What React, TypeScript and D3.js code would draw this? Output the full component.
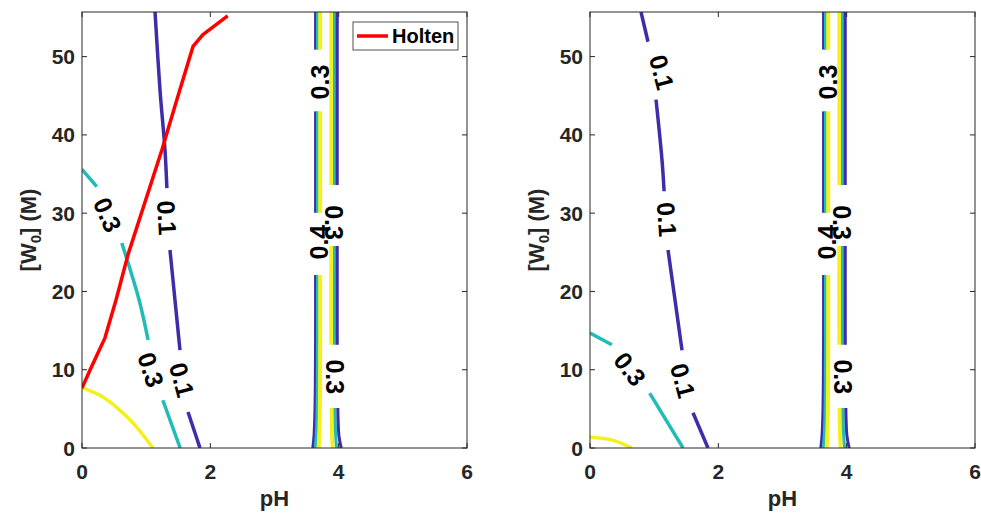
import React from "react";
import * as d3 from "d3";

// ---------- data ----------
const pHTicks = [0, 2, 4, 6];
const wTicks = [0, 10, 20, 30, 40, 50];
const PH_MAX = 6;
const W_MAX = 55.7;

const holtenPH = [0, 0.125, 0.358, 0.53, 0.717, 1.246, 1.464, 1.73, 1.885, 2.27];
const holtenW = [7.67, 9.97, 14.07, 18.9, 24.7, 38.1, 44.1, 51.3, 52.8, 55.2];

// left panel curves
const left01PH = [1.138, 1.216, 1.293, 1.371, 1.449, 1.527, 1.652, 1.839];
const left01W = [55.7, 45.7, 38.1, 25.3, 18.9, 12.5, 4.6, 0];
const left03PH = [0, 0.23, 0.62, 0.89, 1.03, 1.26, 1.53];
const left03W = [35.6, 33.4, 26.2, 18.9, 13.8, 6.1, 0];
const left05PH = [0, 0.35, 0.7, 0.9, 1.106];
const left05W = [7.7, 6.4, 4.0, 2.2, 0];

// right panel curves
const right01PH = [0.795, 0.904, 1.029, 1.122, 1.216, 1.325, 1.434, 1.605, 1.839];
const right01W = [55.7, 51.9, 44.5, 36.8, 25.3, 18.9, 12.5, 4.5, 0];
const right03PH = [0, 0.34, 0.62, 0.93, 1.45];
const right03W = [14.7, 13.2, 10.5, 7.0, 0];
const right05PH = [0, 0.35, 0.65];
const right05W = [1.4, 1.0, 0];

// near-vertical contours around pH 3.6 - 4.0 (same in both panels)
const vertW = [55.7, 15, 8, 4, 1.5, 0];
const vBlueLeftPH = [3.64, 3.64, 3.636, 3.628, 3.615, 3.597];
const vTealLeftPH = [3.67, 3.67, 3.667, 3.661, 3.65, 3.636];
const vYellowLeftPH = [3.712, 3.712, 3.71, 3.706, 3.698, 3.688];
const vYellowRightPH = [3.885, 3.885, 3.887, 3.891, 3.898, 3.908];
const vTealRightPH = [3.935, 3.935, 3.938, 3.944, 3.954, 3.968];
const vBlueRightPH = [3.978, 3.978, 3.982, 3.99, 4.005, 4.04];

const BLUE = "#3e2ca8";
const TEAL = "#22bcb6";
const YELLOW = "#f4f01e";
const RED = "#ff0000";

type Curve = { ph: number[]; w: number[]; color: string; gaps: number[][]; width: number };
type Label = { text: string; ph: number; w: number; angle: number };

const vertCurves: Curve[] = [
  { ph: vBlueLeftPH, w: vertW, color: BLUE, gaps: [[43.0, 50.9], [22.1, 30.05]], width: 3 },
  { ph: vTealLeftPH, w: vertW, color: TEAL, gaps: [[43.0, 50.9], [22.1, 30.05]], width: 3 },
  { ph: vYellowLeftPH, w: vertW, color: YELLOW, gaps: [[43.0, 50.9], [22.1, 30.05]], width: 4 },
  { ph: vYellowRightPH, w: vertW, color: YELLOW, gaps: [[25.8, 33.6], [5.1, 13.2]], width: 4 },
  { ph: vTealRightPH, w: vertW, color: TEAL, gaps: [[25.8, 33.6], [5.1, 13.2]], width: 3 },
  { ph: vBlueRightPH, w: vertW, color: BLUE, gaps: [[25.8, 33.6], [5.1, 13.2]], width: 3 },
];

const vertLabels: Label[] = [
  { text: "0.3", ph: 3.709, w: 46.75, angle: -90 },
  { text: "0.4", ph: 3.69, w: 26.3, angle: -90 },
  { text: "0.3", ph: 3.93, w: 28.8, angle: 90 },
  { text: "0.3", ph: 3.943, w: 9.1, angle: 90 },
];

const leftCurves: Curve[] = [
  { ph: left01PH, w: left01W, color: BLUE, gaps: [[25.3, 33.2], [4.6, 12.5]], width: 3.5 },
  { ph: left03PH, w: left03W, color: TEAL, gaps: [[26.2, 33.4], [6.1, 13.8]], width: 3.5 },
  { ph: left05PH, w: left05W, color: YELLOW, gaps: [], width: 3.5 },
  ...vertCurves,
];
const leftLabels: Label[] = [
  { text: "0.3", ph: 0.4, w: 29.8, angle: 66 },
  { text: "0.1", ph: 1.325, w: 29.4, angle: 87 },
  { text: "0.3", ph: 1.075, w: 10.0, angle: 72 },
  { text: "0.1", ph: 1.558, w: 8.7, angle: 75 },
  ...vertLabels,
];

const rightCurves: Curve[] = [
  { ph: right01PH, w: right01W, color: BLUE, gaps: [[44.5, 51.9], [25.3, 32.8], [4.5, 12.5]], width: 3.5 },
  { ph: right03PH, w: right03W, color: TEAL, gaps: [[7.0, 13.2]], width: 3.5 },
  { ph: right05PH, w: right05W, color: YELLOW, gaps: [], width: 3.5 },
  ...vertCurves,
];
const rightLabels: Label[] = [
  { text: "0.1", ph: 1.12, w: 48.0, angle: 75 },
  { text: "0.1", ph: 1.2, w: 29.2, angle: 86 },
  { text: "0.3", ph: 0.623, w: 10.1, angle: 52 },
  { text: "0.1", ph: 1.449, w: 8.6, angle: 75 },
  ...vertLabels,
];

// ---------- helpers ----------
type P = [number, number];
function splitByGaps(ph: number[], w: number[], gaps: number[][]): P[][] {
  const pts: P[] = ph.map((p, i) => [p, w[i]]);
  const inGap = (v: number) => gaps.some((g) => v > g[0] && v < g[1]);
  const bounds = Array.from(new Set(gaps.flat()));
  const segs: P[][] = [];
  let cur: P[] = [];
  const push = (q: P) => {
    const last = cur[cur.length - 1];
    if (!last || Math.abs(last[0] - q[0]) > 1e-9 || Math.abs(last[1] - q[1]) > 1e-9) cur.push(q);
  };
  pts.forEach((p, i) => {
    if (i > 0) {
      const a = pts[i - 1];
      if (a[1] !== p[1]) {
        const cross = bounds
          .filter((b) => (b - a[1]) * (b - p[1]) <= 0)
          .map((b) => ({ t: (b - a[1]) / (p[1] - a[1]) }))
          .sort((u, v) => u.t - v.t);
        cross.forEach(({ t }) => {
          const at = (s: number) => a[1] + s * (p[1] - a[1]);
          const before = inGap(at(t - 1e-6));
          const after = inGap(at(t + 1e-6));
          if (before === after) return;
          const q: P = [a[0] + t * (p[0] - a[0]), at(t)];
          if (after) {
            push(q);
            if (cur.length > 1) segs.push(cur);
            cur = [];
          } else {
            cur = [];
            push(q);
          }
        });
      }
    }
    if (!inGap(p[1])) push(p);
  });
  if (cur.length > 1) segs.push(cur);
  return segs;
}

const FONT = "'Liberation Sans', Arial, Helvetica, sans-serif";
const AXIS = "#262626";
const TOP = 12;
const BOTTOM = 448;

function Panel({ x0, x1, curves, labels, legend, id }: { x0: number; x1: number; curves: Curve[]; labels: Label[]; legend: boolean; id: string }) {
  const x = d3.scaleLinear().domain([0, PH_MAX]).range([x0, x1]);
  const y = d3.scaleLinear().domain([0, W_MAX]).range([BOTTOM, TOP]);
  const curveLine = d3
    .line<P>()
    .x((d) => x(d[0]))
    .y((d) => y(d[1]))
    .curve(d3.curveCatmullRom.alpha(0.5));
  const straight = d3
    .line<P>()
    .x((d) => x(d[0]))
    .y((d) => y(d[1]));
  const tickLen = 5;
  return (
    <g>
      <defs>
        <clipPath id={id}>
          <rect x={x0} y={TOP} width={x1 - x0} height={BOTTOM - TOP} />
        </clipPath>
      </defs>
      <rect x={x0} y={TOP} width={x1 - x0} height={BOTTOM - TOP} fill="#fff" />
      <g clipPath={`url(#${id})`}>
        {curves.map((c, ci) =>
          splitByGaps(c.ph, c.w, c.gaps).map((s, si) => (
            <path key={`${ci}-${si}`} d={curveLine(s) || ""} fill="none" stroke={c.color} strokeWidth={c.width} />
          ))
        )}
        {legend && (
          <path d={straight(holtenPH.map((p, i) => [p, holtenW[i]] as P)) || ""} fill="none" stroke={RED} strokeWidth={3.5} strokeLinejoin="round" />
        )}
      </g>
      {labels.map((l, i) => (
        <text
          key={i}
          transform={`translate(${x(l.ph)},${y(l.w)}) rotate(${l.angle})`}
          textAnchor="middle"
          dominantBaseline="central"
          fontFamily={FONT}
          fontWeight="bold"
          fontSize={25}
          fill="#000"
        >
          {l.text}
        </text>
      ))}
      {/* axes box */}
      <rect x={x0} y={TOP} width={x1 - x0} height={BOTTOM - TOP} fill="none" stroke={AXIS} strokeWidth={1} />
      {pHTicks.map((t) => (
        <g key={`xt${t}`}>
          <line x1={x(t)} x2={x(t)} y1={BOTTOM} y2={BOTTOM - tickLen} stroke={AXIS} />
          <line x1={x(t)} x2={x(t)} y1={TOP} y2={TOP + tickLen} stroke={AXIS} />
          <text x={x(t)} y={479} textAnchor="middle" fontFamily={FONT} fontWeight="bold" fontSize={21} fill={AXIS}>
            {t}
          </text>
        </g>
      ))}
      {wTicks.map((t) => (
        <g key={`yt${t}`}>
          <line x1={x0} x2={x0 + tickLen} y1={y(t)} y2={y(t)} stroke={AXIS} />
          <line x1={x1} x2={x1 - tickLen} y1={y(t)} y2={y(t)} stroke={AXIS} />
          <text x={x0 - 7} y={y(t)} textAnchor="end" dominantBaseline="central" fontFamily={FONT} fontWeight="bold" fontSize={21} fill={AXIS}>
            {t}
          </text>
        </g>
      ))}
      <text x={(x0 + x1) / 2} y={506} textAnchor="middle" fontFamily={FONT} fontWeight="bold" fontSize={22} fill={AXIS}>
        pH
      </text>
      <text
        transform={`translate(${x0 - 46},${(TOP + BOTTOM) / 2}) rotate(-90)`}
        textAnchor="middle"
        fontFamily={FONT}
        fontWeight="bold"
        fontSize={22}
        fill={AXIS}
      >
        [W<tspan fontSize={15} dy={5}>0</tspan>
        <tspan dy={-5}>] (M)</tspan>
      </text>
      {legend && (
        <g>
          <rect x={353} y={22} width={105} height={28} fill="#fff" stroke={AXIS} strokeWidth={0.8} />
          <line x1={357} x2={388} y1={36} y2={36} stroke={RED} strokeWidth={3.5} />
          <text x={392} y={43} fontFamily={FONT} fontWeight="bold" fontSize={20} fill="#000">
            Holten
          </text>
        </g>
      )}
    </g>
  );
}

export default function App() {
  return (
    <svg width={981} height={514} style={{ position: "absolute", left: 0, top: 0, background: "#fff" }}>
      <rect x={0} y={0} width={981} height={514} fill="#fff" />
      <Panel x0={82} x1={467} curves={leftCurves} labels={leftLabels} legend={true} id="clipL" />
      <Panel x0={590} x1={975} curves={rightCurves} labels={rightLabels} legend={false} id="clipR" />
    </svg>
  );
}
